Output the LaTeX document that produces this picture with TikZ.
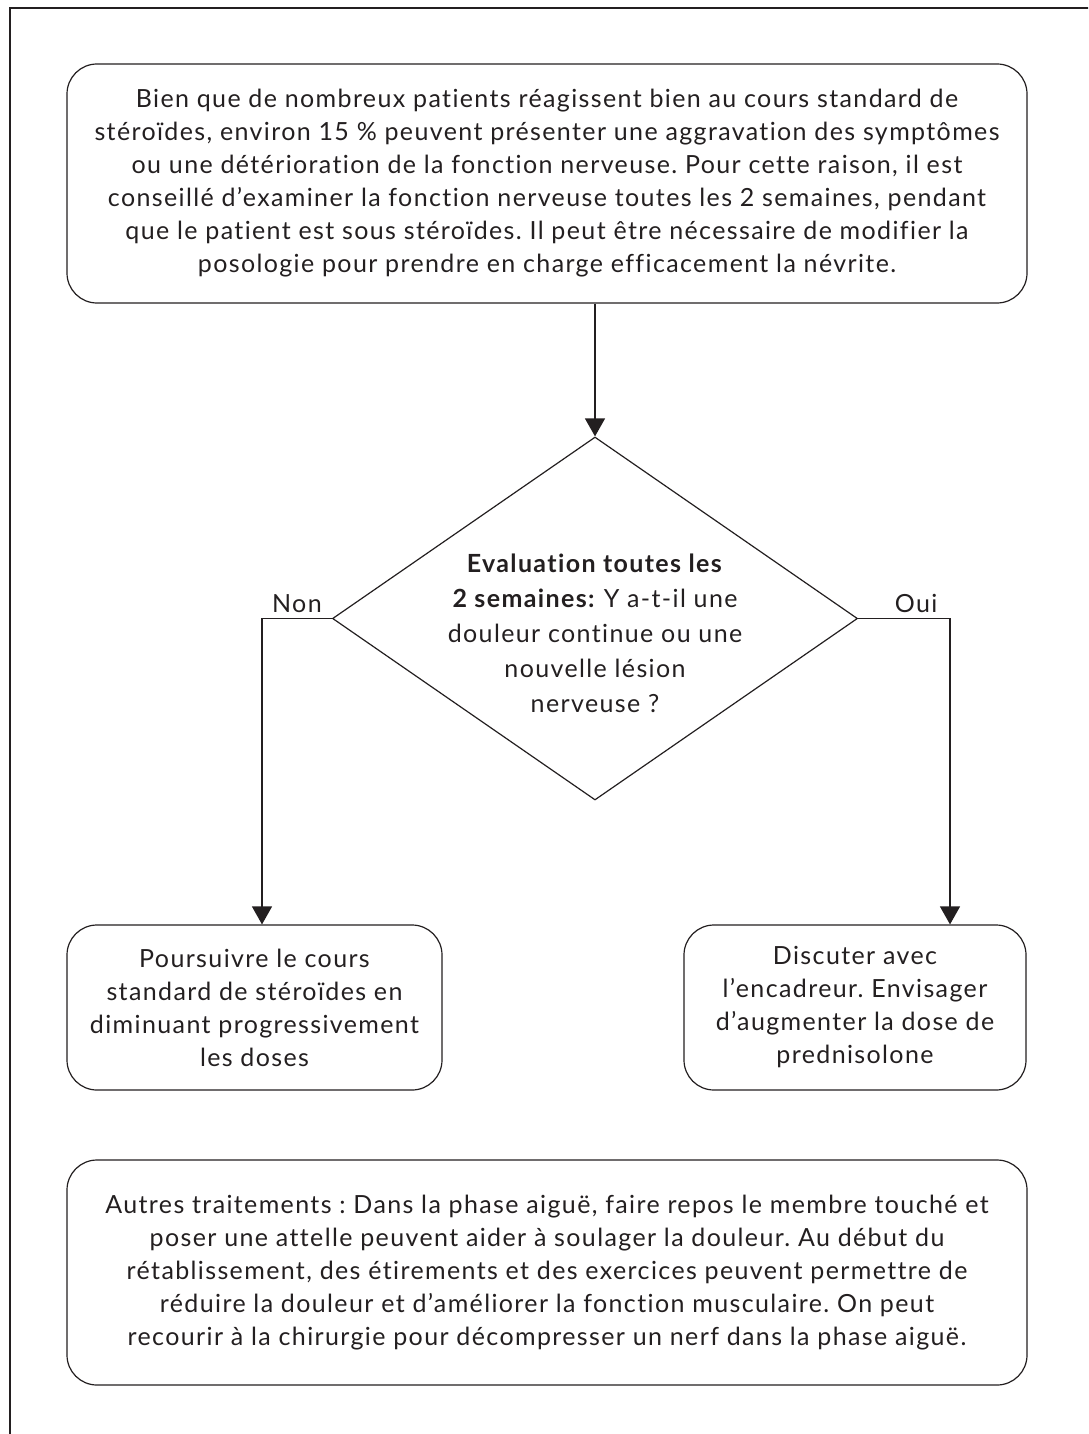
\documentclass[tikz,border=0pt]{standalone}
\usepackage{fontspec}
\setmainfont{Lato}[LetterSpace=5.5, Ligatures=NoCommon]
\frenchspacing
\usepackage{xcolor}
\usepackage{tikz}
\usetikzlibrary{positioning,calc,shapes.geometric,arrows.meta}
\definecolor{inkdark}{HTML}{231F20}

\begin{document}
\begin{tikzpicture}[
  x=1pt, y=-1pt,
  every node/.style={text=inkdark, font=\fontsize{25}{33}\selectfont},
  roundbox/.style={draw=inkdark, line width=1.2pt, rounded corners=30pt, align=center, inner sep=0pt},
  decision/.style={draw=inkdark, line width=1.2pt, shape=diamond, inner sep=0pt},
  arr/.style={draw=inkdark, line width=1.2pt, -{Triangle[width=20pt,length=18pt]}},
]
\useasboundingbox (0,0) rectangle (1088,1434);
\clip (0,0) rectangle (1088,1434);
\draw[inkdark, line width=1.2pt] (10,1450) -- (10,8) -- (1100,8);

\node[roundbox, minimum width=960pt, minimum height=239pt] (top) at (547,183.5) {%
  Bien que de nombreux patients réagissent bien au cours standard de\\
  stéroïdes, environ 15 \% peuvent présenter une aggravation des symptômes\\
  ou une détérioration de la fonction nerveuse. Pour cette raison, il est\\
  conseillé d’examiner la fonction nerveuse toutes les 2 semaines, pendant\\
  que le patient est sous stéroïdes. Il peut être nécessaire de modifier la\\
  posologie pour prendre en charge efficacement la névrite.};

\node[decision, minimum width=525pt, minimum height=363pt] (dec) at (595,618.5) {};
\node[align=center, font=\fontsize{25}{35}\selectfont] (ques) at (595,633) {%
  \textbf{Evaluation toutes les}\\
  \textbf{2 semaines:} Y a-t-il une\\
  douleur continue ou une\\
  nouvelle lésion\\
  nerveuse ?};

\node[roundbox, minimum width=375pt, minimum height=165pt] (cont) at (254.5,1007.5) {%
  Poursuivre le cours\\
  standard de stéroïdes en\\
  diminuant progressivement\\
  les doses};
\node[roundbox, minimum width=342pt, minimum height=165pt] (disc) at (855,1007.5) {%
  Discuter avec\\
  l’encadreur. Envisager\\
  d’augmenter la dose de\\
  prednisolone};

\node[roundbox, minimum width=960pt, minimum height=225pt] (other) at (547,1272.5) {%
  Autres traitements : Dans la phase aiguë, faire repos le membre touché et\\
  poser une attelle peuvent aider à soulager la douleur. Au début du\\
  rétablissement, des étirements et des exercices peuvent permettre de\\
  réduire la douleur et d’améliorer la fonction musculaire. On peut\\
  recourir à la chirurgie pour décompresser un nerf dans la phase aiguë.};

\coordinate (nonx) at (262,0);
\coordinate (ouix) at (950,0);
\draw[arr] (top.south -| dec.north) -- (dec.north);
\draw[arr] (dec.west) -- node[above=2pt] (nonlbl) {Non} (dec.west -| nonx) -- (nonx |- cont.north);
\draw[arr] (dec.east) -- node[above=2pt, xshift=12pt] (ouilbl) {Oui} (dec.east -| ouix) -- (ouix |- disc.north);
\end{tikzpicture}
\end{document}
